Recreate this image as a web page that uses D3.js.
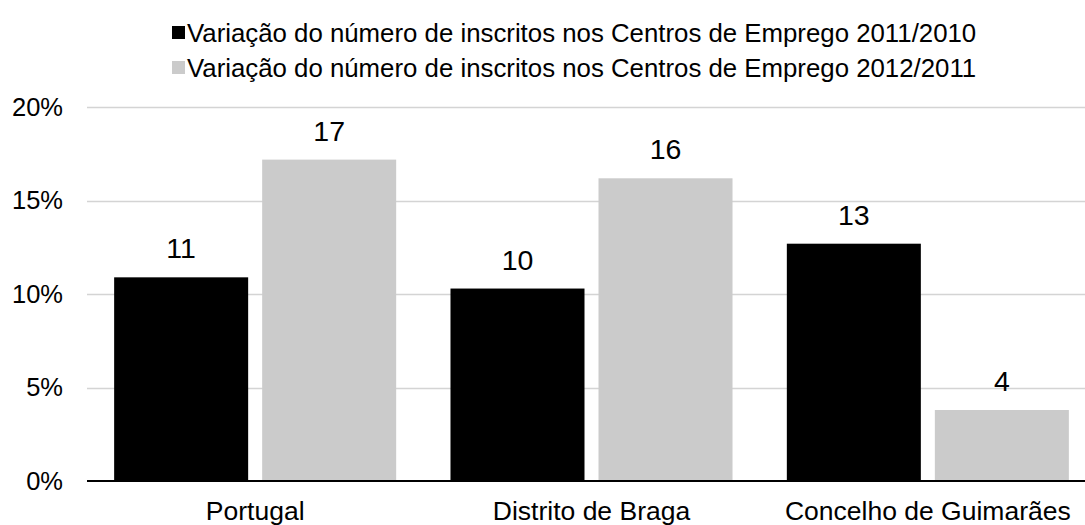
<!DOCTYPE html>
<html>
<head>
<meta charset="utf-8">
<script src="https://cdn.jsdelivr.net/npm/d3@7"></script>
<style>
  html, body { margin: 0; padding: 0; background: #fff; }
  svg { display: block; font-family: "Liberation Sans", Arial, sans-serif; }
</style>
</head>
<body>
<svg id="chart" width="1085" height="525"></svg>
<script>
// Regions compared
const categories = ["Portugal", "Distrito de Braga", "Concelho de Guimarães"];
// Series names (legend)
const seriesNames = [
  "Variação do número de inscritos nos Centros de Emprego 2011/2010",
  "Variação do número de inscritos nos Centros de Emprego 2012/2011"
];
// Percentage change of registrations per region
const values2011 = [10.9, 10.3, 12.7];
const values2012 = [17.2, 16.2, 3.8];
// Y axis ticks (%)
const yTicks = [0, 5, 10, 15, 20];

const colors = ["#000000", "#cbcbcb"];
const series = [values2011, values2012];

const svg = d3.select("#chart");
const W = 1085, H = 525;
const plot = { left: 87, right: 1096, top: 107.3, bottom: 481 };

const y = d3.scaleLinear().domain([0, 20]).range([plot.bottom, plot.top]);
const x0 = d3.scaleBand().domain(categories).range([plot.left, plot.right])
  .paddingInner(0.1615).paddingOuter(0.0807);
const x1 = d3.scaleBand().domain([0, 1]).range([0, x0.bandwidth()]).paddingInner(0.0946);

// Gridlines
const grid = svg.append("g");
grid.selectAll("line").data(yTicks.filter(t => t > 0)).join("line")
  .attr("x1", plot.left).attr("x2", W)
  .attr("y1", d => Math.round(y(d)) + 0.5).attr("y2", d => Math.round(y(d)) + 0.5)
  .attr("stroke", "#d4d4d4").attr("stroke-width", 1.5);

// Y axis labels
const yAxis = d3.axisLeft(y).tickValues(yTicks).tickFormat(d => d + "%").tickSize(0).tickPadding(0);
const yg = svg.append("g").attr("transform", `translate(63,0)`).call(yAxis);
yg.select(".domain").remove();
yg.selectAll("text").attr("font-size", 25.5).attr("fill", "#000")
  .attr("font-family", "'Liberation Sans', Arial, sans-serif");

// Bars
const groups = svg.append("g").selectAll("g").data(categories).join("g")
  .attr("transform", d => `translate(${x0(d)},0)`);

groups.selectAll("rect").data((d, i) => series.map((s, k) => ({ k, v: s[i] }))).join("rect")
  .attr("x", d => x1(d.k))
  .attr("width", x1.bandwidth())
  .attr("y", d => y(d.v))
  .attr("height", d => y(0) - y(d.v))
  .attr("fill", d => colors[d.k]);

// Value labels
groups.selectAll("text.val").data((d, i) => series.map((s, k) => ({ k, v: s[i] }))).join("text")
  .attr("class", "val")
  .attr("x", d => x1(d.k) + x1.bandwidth() / 2)
  .attr("y", d => y(d.v) - 19)
  .attr("text-anchor", "middle")
  .attr("font-size", 28.5)
  .attr("fill", "#000")
  .text(d => d3.format(".0f")(d.v));

// Baseline
svg.append("line")
  .attr("x1", plot.left).attr("x2", W)
  .attr("y1", y(0)).attr("y2", y(0))
  .attr("stroke", "#000").attr("stroke-width", 2);

// Category labels
const xAxis = d3.axisBottom(x0).tickSize(0).tickPadding(0);
const xg = svg.append("g").attr("transform", `translate(0,${plot.bottom})`).call(xAxis);
xg.select(".domain").remove();
xg.selectAll("text").attr("font-size", 26.5).attr("fill", "#000")
  .attr("font-family", "'Liberation Sans', Arial, sans-serif")
  .attr("dy", null).attr("y", 39);

// Legend
const legend = svg.append("g");
seriesNames.forEach((name, k) => {
  const ly = 33 + k * 35;
  legend.append("rect").attr("x", 172).attr("y", ly - 7).attr("width", 13).attr("height", 13)
    .attr("fill", colors[k]);
  legend.append("text").attr("x", 187).attr("y", ly).attr("dy", "0.35em")
    .attr("font-size", 25.8).attr("fill", "#000").text(name);
});
</script>
</body>
</html>
